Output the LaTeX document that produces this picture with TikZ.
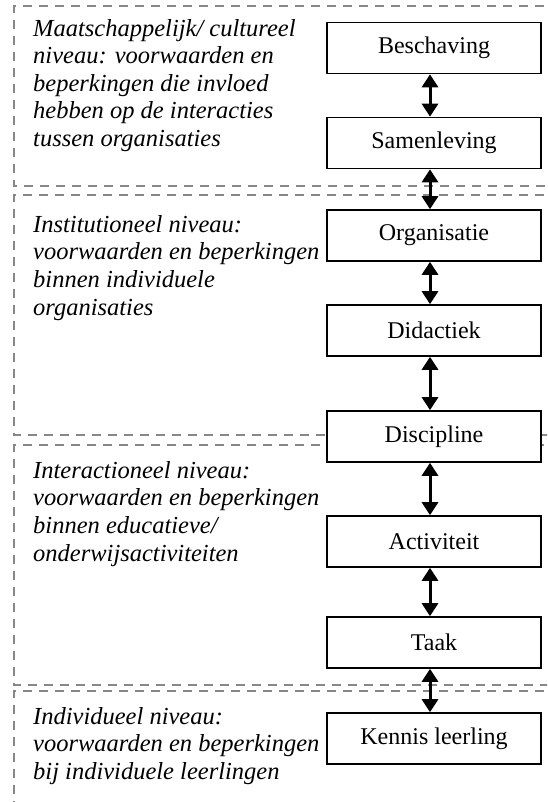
\documentclass[tikz,border=0pt]{standalone}
\usepackage{fontspec}
\setmainfont{Liberation Serif}
\usetikzlibrary{arrows.meta}
\definecolor{dashgray}{RGB}{135,135,135}
\begin{document}
\begin{tikzpicture}[x=1pt,y=-1pt,
  panel/.style={draw=dashgray, line width=2.3pt, dash pattern=on 9pt off 7pt},
  box/.style={draw, line width=1.6pt, minimum width=214pt, minimum height=51pt, inner sep=0pt, fill=white, font=\fontsize{24}{28}\selectfont},
  lvl/.style={anchor=north west, align=left, inner sep=0pt, font=\fontsize{24.5}{27.6}\selectfont\itshape},
  link/.style={line width=3pt, {Triangle[width=16pt,length=13pt]}-{Triangle[width=16pt,length=13pt]}}]
\clip (0,0) rectangle (547,802);
\useasboundingbox (0,0) rectangle (547,802);
% panels
\draw[panel] (560,6) -- (14,6) -- (14,186) -- (560,186);
\draw[panel] (560,195) -- (14,195) -- (14,435) -- (560,435);
\draw[panel] (560,445) -- (14,445) -- (14,685) -- (560,685);
\draw[panel] (560,691) -- (14,691) -- (14,810);
% level texts
\node[lvl] (t1) at (33,19) {Maatschappelijk/ cultureel\\niveau: voorwaarden en\\beperkingen die invloed\\hebben op de interacties\\tussen organisaties};
\node[lvl] (t2) at (33,215) {Institutioneel niveau:\\voorwaarden en beperkingen\\binnen individuele\\organisaties};
\node[lvl] (t3) at (33,461) {Interactioneel niveau:\\voorwaarden en beperkingen\\binnen educatieve/\\onderwijsactiviteiten};
\node[lvl] (t4) at (33,707) {Individueel niveau:\\voorwaarden en beperkingen\\bij individuele leerlingen};
% boxes
\node[box] (b1) at (434,48) {Beschaving};
\node[box] (b2) at (434,143) {Samenleving};
\node[box] (b3) at (434,235.5) {Organisatie};
\node[box] (b4) at (434,330.5) {Didactiek};
\node[box] (b5) at (434,436.5) {Discipline};
\node[box] (b6) at (434,541.5) {Activiteit};
\node[box] (b7) at (434,642.5) {Taak};
\node[box] (b8) at (434,738.5) {Kennis leerling};
% links
\foreach \a/\b in {b1/b2,b2/b3,b3/b4,b4/b5,b5/b6,b6/b7,b7/b8}
  \draw[link] ([xshift=-4pt]\a.south) -- ([xshift=-4pt]\b.north);
\end{tikzpicture}
\end{document}
